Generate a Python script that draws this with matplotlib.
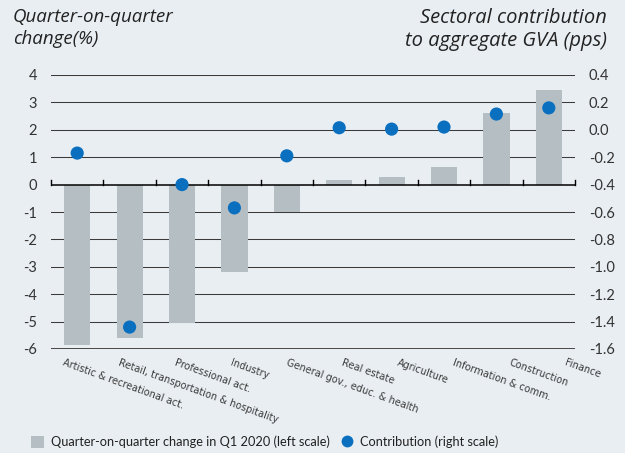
import numpy as np
import matplotlib.pyplot as plt
from matplotlib.lines import Line2D
from matplotlib.patches import Patch

# sectors and values
sectors = ['Artistic & recreational act.', 'Retail, transportation & hospitality',
           'Professional act.', 'Industry', 'General gov., educ. & health',
           'Real estate', 'Agriculture', 'Information & comm.', 'Construction', 'Finance']
qoq_change = [-5.85, -5.6, -5.05, -3.2, -1.0, 0.15, 0.27, 0.63, 2.63, 3.44]
contribution = [-0.17, -1.44, -0.40, -0.57, -0.19, 0.015, 0.005, 0.02, 0.115, 0.16]
left_ticks = [4, 3, 2, 1, 0, -1, -2, -3, -4, -5, -6]
right_ticks = [0.4, 0.2, 0.0, -0.2, -0.4, -0.6, -0.8, -1.0, -1.2, -1.4, -1.6]

bg = '#e9eef2'
bar_col = '#b5bfc3'
dot_col = '#0a6fbf'
txt_col = '#333333'

plt.rcParams['font.family'] = ['Lato', 'DejaVu Sans']

fig = plt.figure(figsize=(6.25, 4.53), dpi=100, facecolor=bg)
ax = fig.add_axes([51/625, 1-349/453, 524/625, 274/453])
ax.set_facecolor(bg)

x = np.arange(len(sectors))
ax.bar(x, qoq_change, width=0.5, color=bar_col, zorder=2)
ax.set_xlim(-0.5, len(sectors)-0.5)
ax.set_ylim(-6, 4)
ax.set_yticks(left_ticks)
ax.set_yticklabels([str(t) for t in left_ticks])

# gridlines
for t in left_ticks:
    if t == 0:
        continue
    ax.axhline(t, color='#3a3a3a', lw=0.75 if t != -6 else 1.3, zorder=1)
ax.axhline(0, color='black', lw=1.1, zorder=3)

for s in ax.spines.values():
    s.set_visible(False)
ax.tick_params(axis='y', length=0, labelsize=10.5, labelcolor=txt_col, pad=10)
ax.set_xticks([])
# small ticks on the zero line between the bars
for b in np.arange(-0.5, len(sectors), 1.0):
    ax.plot([b, b], [0, 0.15], color='black', lw=1.0, zorder=3, clip_on=False)

ax2 = ax.twinx()
ax2.scatter(x, contribution, s=90, color=dot_col, zorder=4, edgecolors='none')
ax2.set_ylim(-1.6, 0.4)
ax2.set_yticks(right_ticks)
ax2.set_yticklabels(['%.1f' % t for t in right_ticks])
ax2.tick_params(axis='y', length=0, labelsize=10.5, labelcolor=txt_col, pad=10)
for s in ax2.spines.values():
    s.set_visible(False)

# rotated category labels (spread a little wider than the bars, as in the original)
for i, name in enumerate(sectors):
    ax.annotate(name, xy=(-0.23 + 1.063 * i, -6), xytext=(0, -6), textcoords='offset points',
                rotation=-20, ha='left', va='top', rotation_mode='anchor',
                fontsize=7.0, color='#3a3a3a', family=['Liberation Sans Narrow', 'DejaVu Sans'])

title_font = ['Open Sans', 'DejaVu Sans']
fig.text(13/625, 1-8/453, 'Quarter-on-quarter\nchange(%)', ha='left', va='top',
         fontsize=13.5, style='italic', color='#222222', linespacing=1.32, family=title_font)
fig.text(607/625, 1-8/453, 'Sectoral contribution\nto aggregate GVA (pps)', ha='right', va='top',
         fontsize=14.5, style='italic', color='#222222', linespacing=1.22,
         multialignment='right', family=title_font)

handles = [Patch(facecolor=bar_col, edgecolor='none'),
           Line2D([], [], marker='o', linestyle='none', color=dot_col, markersize=7.5)]
labels = ['Quarter-on-quarter change in Q1 2020 (left scale)', 'Contribution (right scale)']
fig.legend(handles, labels, loc='lower left', bbox_to_anchor=(31/625, 5/453), ncol=2,
           frameon=False, fontsize=9.2, handlelength=1.05, handleheight=1.05,
           handletextpad=0.5, columnspacing=0.8, labelcolor='#222222',
           borderpad=0, borderaxespad=0)

fig.savefig('out.png', dpi=100, facecolor=bg)
